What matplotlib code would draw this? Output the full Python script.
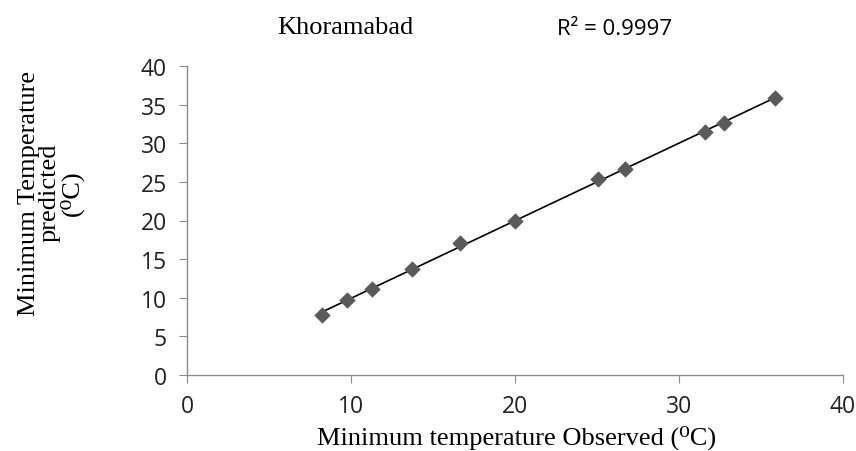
import numpy as np
import matplotlib
matplotlib.use("Agg")
import matplotlib.pyplot as plt

observed = [8.23, 9.73, 11.28, 13.71, 16.64, 19.98, 25.05, 26.68, 31.61, 32.72, 35.86]
predicted = [7.75, 9.70, 11.17, 13.68, 17.06, 19.91, 25.37, 26.67, 31.43, 32.64, 35.84]
x_ticks = [0, 10, 20, 30, 40]
y_ticks = [0, 5, 10, 15, 20, 25, 30, 35, 40]
title = "Khoramabad"
r2_text = "R² = 0.9997"
xlabel = "Minimum temperature Observed (⁰C)"
ylabel = "Minimum Temperature\npredicted\n(⁰C)"

serif = ["Liberation Serif", "DejaVu Serif"]

fig = plt.figure(figsize=(8.56, 4.52), dpi=100)
ax = fig.add_axes([187/856, 1-376/452, (843-187)/856, (376-67)/452])

ax.scatter(observed, predicted, marker="D", s=70, color="#5a5a5a", zorder=3, linewidths=0)
slope, intercept = np.polyfit(observed, predicted, 1)
xs = np.array([min(observed), max(observed)])
ax.plot(xs, slope*xs + intercept, color="black", lw=1.2, zorder=2)

ax.set_xlim(0, 40)
ax.set_ylim(0, 40)
ax.set_xticks(x_ticks)
ax.set_yticks(y_ticks)
for s in ["top", "right"]:
    ax.spines[s].set_visible(False)
for s in ["left", "bottom"]:
    ax.spines[s].set_color("#8c8c8c")
    ax.spines[s].set_linewidth(1.0)
ax.tick_params(direction="out", length=5.5, color="#8c8c8c", labelsize=16.5)
ax.tick_params(axis="y", pad=9)
ax.tick_params(axis="x", pad=8)
for lab in ax.get_xticklabels() + ax.get_yticklabels():
    lab.set_fontfamily(["Open Sans", "DejaVu Sans"])
    lab.set_color("#222222")

fig.text(517/856, 1-445/452, xlabel, ha="center", va="baseline",
         fontfamily=serif, fontsize=19)
fig.text(51/856, 1-193/452, ylabel, rotation=90, ha="center", va="center",
         fontfamily=serif, fontsize=19, multialignment="center", linespacing=0.92)

fig.text(345.5/856, 1-34/452, title, ha="center", va="baseline",
         fontfamily=serif, fontsize=19)
fig.text(615/856, 1-35/452, r2_text, ha="center", va="baseline",
         fontfamily=["Open Sans", "DejaVu Sans"], fontsize=16)

fig.savefig("out.png", dpi=100)
